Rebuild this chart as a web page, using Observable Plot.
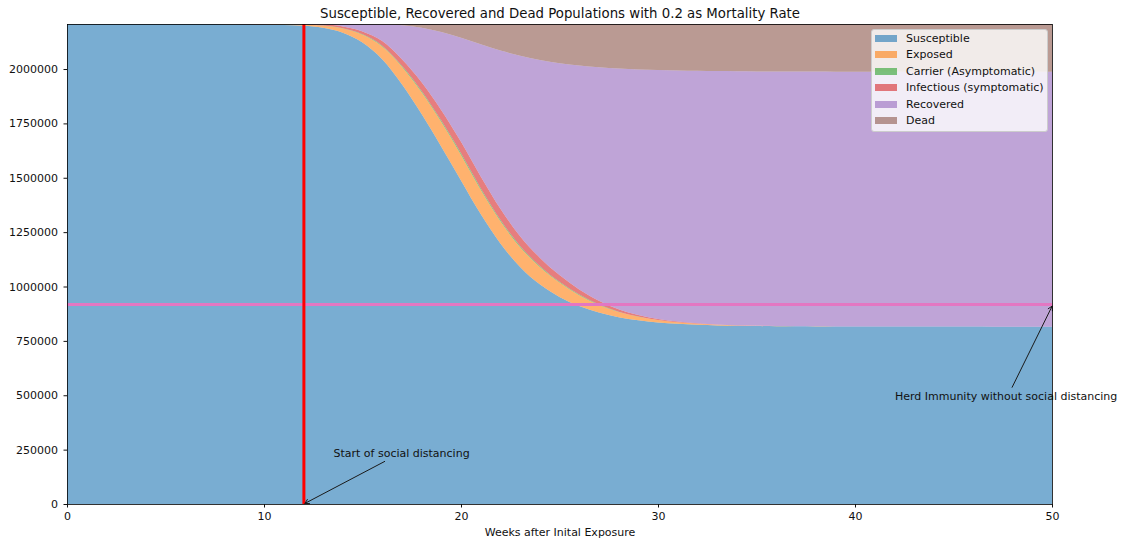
<!DOCTYPE html>
<html>
<head>
<meta charset="utf-8">
<script src="https://cdn.jsdelivr.net/npm/d3@7"></script>
<script src="https://cdn.jsdelivr.net/npm/@observablehq/plot@0.6"></script>
<style>
  body { margin: 0; background: #fff; font-family: "DejaVu Sans", sans-serif; }
  #chart { position: relative; width: 1124px; height: 541px; }
  #chart svg { display: block; }
  .legend {
    position: absolute; left: 871px; top: 29px; width: 177px; height: 103px;
    box-sizing: border-box; background: rgba(255,255,255,0.8);
    border: 1px solid #cccccc; border-radius: 3px;
    font: 11px "DejaVu Sans", sans-serif; color: #111;
    padding: 0 0 0 3px;
  }
  .legend .row { display: flex; align-items: center; height: 16.5px; }
  .legend .sw { width: 22px; height: 7px; margin-right: 9px; }
</style>
</head>
<body>
<div id="chart"></div>
<script>
// Population compartments, one value per week after initial exposure
const weeks = [0,1,2,3,4,5,6,7,8,9,10,11,12,13,14,15,16,17,18,19,20,21,22,23,24,25,26,27,28,29,30,31,32,33,34,35,36,37,38,39,40,41,42,43,44,45,46,47,48,49,50];

const susceptible = [2207000,2207000,2207000,2207000,2207000,2206900,2206800,2206600,2206200,2205600,2204500,2202800,2199000,2190000,2167000,2122000,2045000,1930000,1793000,1643000,1488000,1333000,1198000,1090000,1010000,952000,910000,880000,859000,845000,835000,828500,824000,821000,819200,818100,817500,817000,816700,816400,816200,816100,816000,815900,815800,815700,815600,815500,815400,815300,815200];

const exposed = [0,0,0,0,0,60,100,200,400,700,1300,2300,4500,9000,19000,35000,58000,80000,100000,113000,117000,112000,102000,91000,80000,66000,50000,35000,24000,16000,10500,7000,4500,2900,1800,1100,700,400,250,150,100,0,0,0,0,0,0,0,0,0,0];

const carrier = [0,0,0,0,0,10,20,30,60,100,200,300,600,1200,2000,3000,4500,5500,6500,7000,7500,7000,6500,5500,4500,3500,2700,2000,1400,1000,700,500,300,200,100,100,0,0,0,0,0,0,0,0,0,0,0,0,0,0,0];

const infectious = [0,0,0,0,0,20,50,100,200,350,600,1000,2000,4000,8000,13000,21000,30000,40000,48000,53000,54000,51000,45000,38000,31000,24000,18000,11000,7000,4500,3000,2000,1300,900,600,400,250,150,100,60,0,0,0,0,0,0,0,0,0,0];

const recovered = [0,0,0,0,0,10,30,70,140,250,400,600,900,2700,10700,33400,77000,155500,250500,359000,478500,608000,727500,829500,909500,974500,1029300,1073000,1106600,1129000,1144300,1154000,1160700,1165000,1167600,1169100,1170000,1170650,1171000,1171350,1171640,1171900,1172000,1172100,1172200,1172300,1172400,1172500,1172600,1172700,1172800];

const dead = [0,0,0,0,0,0,0,0,0,0,0,0,0,100,300,600,1500,6000,17000,37000,63000,93000,122000,146000,165000,180000,191000,199000,205000,209000,212000,214000,215500,216600,217400,218000,218400,218700,218900,219000,219000,219000,219000,219000,219000,219000,219000,219000,219000,219000,219000];

const seriesNames = ["Susceptible", "Exposed", "Carrier (Asymptomatic)", "Infectious (symptomatic)", "Recovered", "Dead"];
const seriesValues = [susceptible, exposed, carrier, infectious, recovered, dead];
const seriesColors = ["#1f77b4", "#ff7f0e", "#2ca02c", "#d62728", "#9467bd", "#8c564b"];

const population = 2207000;
const distancingStart = 12;       // week social distancing begins
const herdImmunity = 919583;      // susceptible level at herd immunity

const xTicks = [0, 10, 20, 30, 40, 50];
const yTicks = [0, 250000, 500000, 750000, 1000000, 1250000, 1500000, 1750000, 2000000];

const titleText = "Susceptible, Recovered and Dead Populations with 0.2 as Mortality Rate";
const xLabel = "Weeks after Inital Exposure";

const notes = [
  {text: "Start of social distancing", x: 13.5, y: 220000, x1: 16.1, y1: 198000, x2: 12.05, y2: 5000},
  {text: "Herd Immunity without social distancing", x: 42, y: 480000, x1: 47.95, y1: 539000, x2: 49.98, y2: 912000}
];

// long-format table for the stacked areas
const rows = [];
weeks.forEach((w, i) => {
  seriesNames.forEach((name, k) => rows.push({week: w, series: name, value: seriesValues[k][i]}));
});

const chart = Plot.plot({
  width: 1124,
  height: 541,
  marginLeft: 67,
  marginRight: 72,
  marginTop: 24,
  marginBottom: 37,
  style: {fontFamily: "DejaVu Sans, sans-serif", fontSize: "11px", color: "#111", background: "#fff"},
  x: {domain: [0, 50]},
  y: {domain: [0, population]},
  color: {domain: seriesNames, range: seriesColors},
  marks: [
    Plot.areaY(rows, {
      x: "week", y: "value", z: "series", fill: "series",
      order: seriesNames, fillOpacity: 0.6, curve: "monotone-x"
    }),
    Plot.ruleY([herdImmunity], {stroke: "#e377c2", strokeWidth: 3}),
    Plot.ruleX([distancingStart], {stroke: "#ff0000", strokeWidth: 3}),
    Plot.arrow(notes, {x1: "x1", y1: "y1", x2: "x2", y2: "y2", stroke: "#1a1a1a", strokeWidth: 1, headLength: 7}),
    Plot.text(notes, {x: "x", y: "y", text: "text", textAnchor: "start", lineAnchor: "bottom", fill: "#111", fontSize: 11}),
    Plot.frame({stroke: "#000", strokeWidth: 0.8}),
    Plot.axisY({ticks: yTicks, tickFormat: d => String(d), tickSize: 3.5, tickPadding: 6, label: null}),
    Plot.axisX({ticks: xTicks, tickFormat: d => String(d), tickSize: 3.5, tickPadding: 4, label: null}),
    Plot.text([titleText], {frameAnchor: "top", dy: -6.7, lineAnchor: "bottom", fontSize: 13.3, fill: "#111"}),
    Plot.text([xLabel], {frameAnchor: "bottom", dy: 31, lineAnchor: "bottom", fontSize: 11, fill: "#111"})
  ]
});

const host = document.getElementById("chart");
host.appendChild(chart);

// legend box in the upper right of the axes
const legend = document.createElement("div");
legend.className = "legend";
seriesNames.forEach((name, k) => {
  const row = document.createElement("div");
  row.className = "row";
  const sw = document.createElement("span");
  sw.className = "sw";
  sw.style.background = seriesColors[k];
  sw.style.opacity = 0.6;
  const label = document.createElement("span");
  label.textContent = name;
  row.appendChild(sw);
  row.appendChild(label);
  legend.appendChild(row);
});
host.appendChild(legend);
</script>
</body>
</html>
